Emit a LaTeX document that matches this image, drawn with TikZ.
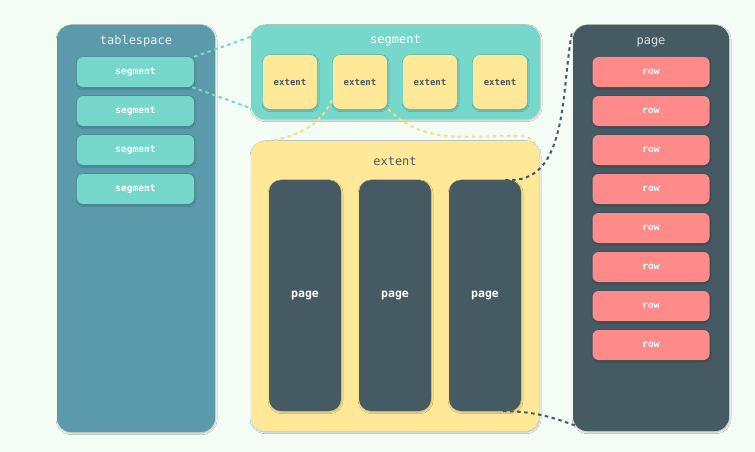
\documentclass[tikz,border=0pt]{standalone}
\usepackage{fontspec}
\setmonofont{DejaVu Sans Mono}
\usetikzlibrary{shadows.blur}
\definecolor{bgc}{HTML}{F4FCF6}
\definecolor{tsc}{HTML}{5A9AAA}
\definecolor{sgc}{HTML}{76D7CB}
\definecolor{exc}{HTML}{FFE999}
\definecolor{pgc}{HTML}{465A64}
\definecolor{rwc}{HTML}{FF8A8A}
\definecolor{dashy}{HTML}{F8DC84}
\begin{document}
\begin{tikzpicture}[x=1pt,y=-1pt,
  font=\ttfamily,
  shade/.style={blur shadow={shadow xshift=0.6pt,shadow yshift=-1.2pt,shadow blur radius=1.5pt,shadow opacity=25}},
  bigbox/.style={draw=none,rounded corners=14pt,inner sep=0pt,shade},
  smallbox/.style={draw=none,rounded corners=6pt,inner sep=0pt,minimum width=117pt,minimum height=30pt,shade,font=\ttfamily\bfseries\fontsize{9.5}{10}\selectfont,text=white},
  extbox/.style={draw=none,fill=exc,rounded corners=7pt,inner sep=0pt,minimum width=54pt,minimum height=54pt,shade,font=\ttfamily\bfseries\fontsize{9}{10}\selectfont,text=pgc},
  pagebox/.style={draw=none,fill=pgc,rounded corners=12pt,inner sep=0pt,minimum width=72pt,minimum height=231pt,shade,font=\ttfamily\bfseries\fontsize{11.5}{12}\selectfont,text=white},
  titletext/.style={font=\ttfamily\fontsize{12}{13}\selectfont,inner sep=0pt},
  link/.style={dash pattern=on 3.5pt off 3.5pt,line width=2pt},
]
\useasboundingbox[fill=bgc] (0,0) rectangle (755,452);

% tablespace
\node[bigbox,fill=tsc,minimum width=158pt,minimum height=407pt] (ts) at (136,228.5) {};
\node[titletext,text=white!88!tsc] (tst) at (136,41.5) {tablespace};
\foreach \i/\y in {1/72,2/111,3/150,4/189}{
  \node[smallbox,fill=sgc] (s\i) at (135.5,\y) {segment};
}

% segment
\node[bigbox,fill=sgc,minimum width=289pt,minimum height=94pt] (sg) at (395.5,72) {};
\node[titletext,text=white] (sgt) at (395.5,40.5) {segment};
\foreach \i/\x in {1/290,2/360,3/430,4/500}{
  \node[extbox] (e\i) at (\x,82) {extent};
}

% extent
\node[bigbox,fill=exc,minimum width=288pt,minimum height=290pt] (ex) at (395,286) {};
\node[titletext,text=pgc] (ext) at (395,161.5) {extent};
\foreach \i/\x in {1/305,2/395,3/485}{
  \node[pagebox] (p\i) at (\x,295.5) {page};
}

% page
\node[bigbox,fill=pgc,minimum width=156pt,minimum height=406pt] (pg) at (651,228) {};
\node[titletext,text=white!80!pgc] (pgt) at (651,42.5) {page};
\foreach \i/\y in {1/72,2/111,3/150,4/189,5/228,6/267,7/306,8/345}{
  \node[smallbox,fill=rwc] (r\i) at (651,\y) {row};
}

% connectors
\draw[link,sgc] (s1.north east) -- ([yshift=-12pt]sg.north west);
\draw[link,sgc] ([xshift=-2pt]s1.south east) -- ([yshift=11pt]sg.south west);
\draw[link,dashy] ([xshift=-1pt,yshift=9pt]e2.south west) to[out=-115,in=10] ([xshift=10pt,yshift=-2pt]ex.north west);
\draw[link,dashy] ([xshift=1pt]e2.south east) to[out=-45,in=180] ([xshift=-26pt,yshift=5pt]ex.north east) to[out=0,in=110] ([xshift=-4pt,yshift=-4pt]ex.north east);
\draw[link,pgc] ([xshift=-16pt]p3.north east) to[out=-5,in=-100] ([xshift=-1pt,yshift=-8pt]pg.north west);
\draw[link,pgc] ([xshift=-18pt]p3.south east) to[out=0,in=160] ([xshift=10pt,yshift=3pt]pg.south west);
\end{tikzpicture}
\end{document}
